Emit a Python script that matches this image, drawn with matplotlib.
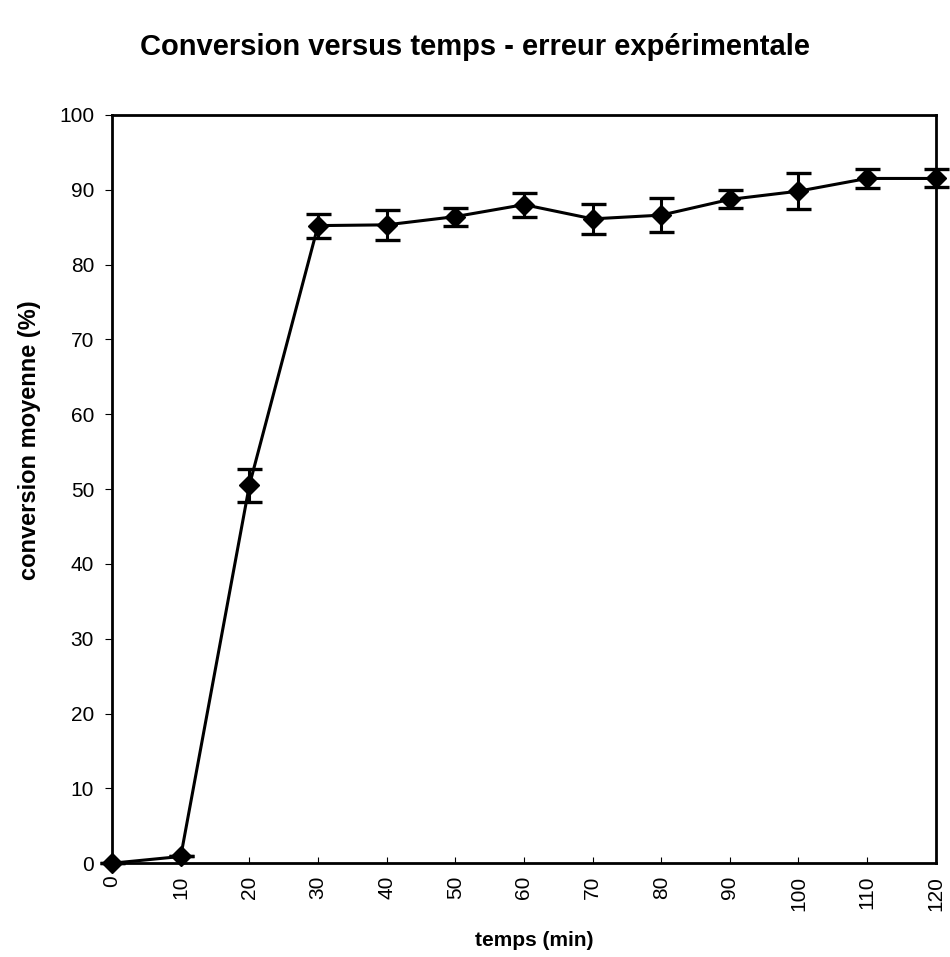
import matplotlib
matplotlib.use("Agg")
from matplotlib import pyplot as plt

plt.rcParams["font.family"] = ["Liberation Sans", "DejaVu Sans"]

# mean conversion over time, with experimental error
temps = [0, 10, 20, 30, 40, 50, 60, 70, 80, 90, 100, 110, 120]
conversion = [0.0, 0.9, 50.5, 85.2, 85.3, 86.4, 88.0, 86.1, 86.6, 88.7, 89.8, 91.5, 91.5]
erreur = [0.0, 0.0, 2.2, 1.6, 2.0, 1.2, 1.6, 2.0, 2.3, 1.2, 2.4, 1.3, 1.2]

fig = plt.figure(figsize=(9.5, 9.57), dpi=100)
ax = fig.add_axes([0.118, 0.098, 0.867, 0.782])

ax.errorbar(temps, conversion, yerr=erreur, color="black", linewidth=2.2,
            marker="D", markersize=10, elinewidth=2.2, capsize=9, capthick=2.4,
            clip_on=False, zorder=3)

ax.set_xlim(0, 120)
ax.set_ylim(0, 100)
ax.set_xticks(range(0, 121, 10))
ax.set_yticks(range(0, 101, 10))
for s in ax.spines.values():
    s.set_linewidth(2)
ax.tick_params(axis="x", direction="in", length=4, labelsize=15, labelrotation=90, pad=9)
ax.tick_params(axis="y", direction="out", length=5, labelsize=15, pad=8)

ax.set_xlabel("temps (min)", fontsize=15, fontweight="bold", va="center")
ax.set_ylabel("conversion moyenne (%)", fontsize=17, fontweight="bold", va="center")
ax.xaxis.set_label_coords(0.512, -0.103)
ax.yaxis.set_label_coords(-0.1, 0.565)
fig.text(0.5, 0.951, "Conversion versus temps - erreur expérimentale",
         ha="center", va="center", fontsize=21, fontweight="bold")

fig.savefig("out.png", dpi=100)
